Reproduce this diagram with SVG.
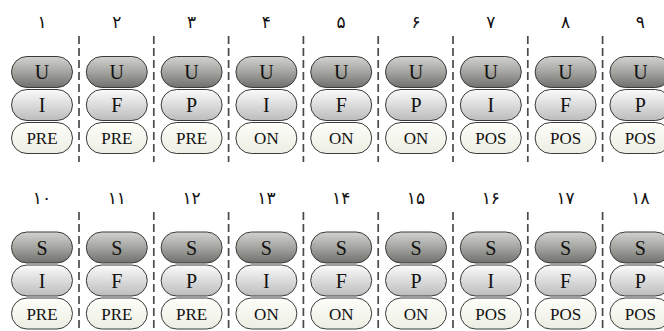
<svg xmlns="http://www.w3.org/2000/svg" width="664" height="331" viewBox="0 0 664 331">
<defs>
<linearGradient id="gTop" x1="0" y1="0" x2="0" y2="1">
<stop offset="0" stop-color="#d2d2ce"/>
<stop offset="0.5" stop-color="#a4a4a0"/>
<stop offset="1" stop-color="#70706c"/>
</linearGradient>
<linearGradient id="gMid" x1="0" y1="0" x2="0" y2="1">
<stop offset="0" stop-color="#fbfbfb"/>
<stop offset="1" stop-color="#bcbcbc"/>
</linearGradient>
<linearGradient id="gBot" x1="0" y1="0" x2="0" y2="1">
<stop offset="0" stop-color="#fefefa"/>
<stop offset="1" stop-color="#eceee2"/>
</linearGradient>
<rect id="pill" x="0" y="0" width="61" height="31" rx="15.5" ry="15.5"/>
</defs>
<style>
.top{fill:url(#gTop);stroke:#3a3a3a;stroke-width:1}
.mid{fill:url(#gMid);stroke:#3a3a3a;stroke-width:1}
.bot{fill:url(#gBot);stroke:#3a3a3a;stroke-width:1}
.big{font-family:"Liberation Serif",serif;font-size:20px;fill:#111;text-anchor:middle}
.small{font-family:"Liberation Serif",serif;font-size:17px;fill:#111;text-anchor:middle}
.num{font-family:"DejaVu Sans",sans-serif;font-size:17px;fill:#111;text-anchor:middle}
.sep{stroke:#4a4a4a;stroke-width:1.7;stroke-dasharray:8 4;fill:none}
</style>
<rect width="664" height="331" fill="#ffffff"/>
<g id="separators">
<line class="sep" x1="79" y1="36" x2="79" y2="162"/>
<line class="sep" x1="153.8" y1="36" x2="153.8" y2="162"/>
<line class="sep" x1="228.6" y1="36" x2="228.6" y2="162"/>
<line class="sep" x1="303.4" y1="36" x2="303.4" y2="162"/>
<line class="sep" x1="378.2" y1="36" x2="378.2" y2="162"/>
<line class="sep" x1="453" y1="36" x2="453" y2="162"/>
<line class="sep" x1="527.8" y1="36" x2="527.8" y2="162"/>
<line class="sep" x1="602.6" y1="36" x2="602.6" y2="162"/>
<line class="sep" x1="79" y1="212" x2="79" y2="331"/>
<line class="sep" x1="153.8" y1="212" x2="153.8" y2="331"/>
<line class="sep" x1="228.6" y1="212" x2="228.6" y2="331"/>
<line class="sep" x1="303.4" y1="212" x2="303.4" y2="331"/>
<line class="sep" x1="378.2" y1="212" x2="378.2" y2="331"/>
<line class="sep" x1="453" y1="212" x2="453" y2="331"/>
<line class="sep" x1="527.8" y1="212" x2="527.8" y2="331"/>
<line class="sep" x1="602.6" y1="212" x2="602.6" y2="331"/>
</g>
<g id="col1" transform="translate(11.5,0)">
<text class="num" x="30.5" y="28">۱</text>
<use href="#pill" class="top" y="56.5"/><text class="big" x="30.5" y="79">U</text>
<use href="#pill" class="mid" y="89.5"/><text class="big" x="30.5" y="112">I</text>
<use href="#pill" class="bot" y="122.5"/><text class="small" x="30.5" y="144">PRE</text>
</g>
<g id="col2" transform="translate(86.3,0)">
<text class="num" x="30.5" y="28">۲</text>
<use href="#pill" class="top" y="56.5"/><text class="big" x="30.5" y="79">U</text>
<use href="#pill" class="mid" y="89.5"/><text class="big" x="30.5" y="112">F</text>
<use href="#pill" class="bot" y="122.5"/><text class="small" x="30.5" y="144">PRE</text>
</g>
<g id="col3" transform="translate(161.1,0)">
<text class="num" x="30.5" y="28">۳</text>
<use href="#pill" class="top" y="56.5"/><text class="big" x="30.5" y="79">U</text>
<use href="#pill" class="mid" y="89.5"/><text class="big" x="30.5" y="112">P</text>
<use href="#pill" class="bot" y="122.5"/><text class="small" x="30.5" y="144">PRE</text>
</g>
<g id="col4" transform="translate(235.9,0)">
<text class="num" x="30.5" y="28">۴</text>
<use href="#pill" class="top" y="56.5"/><text class="big" x="30.5" y="79">U</text>
<use href="#pill" class="mid" y="89.5"/><text class="big" x="30.5" y="112">I</text>
<use href="#pill" class="bot" y="122.5"/><text class="small" x="30.5" y="144">ON</text>
</g>
<g id="col5" transform="translate(310.7,0)">
<text class="num" x="30.5" y="28">۵</text>
<use href="#pill" class="top" y="56.5"/><text class="big" x="30.5" y="79">U</text>
<use href="#pill" class="mid" y="89.5"/><text class="big" x="30.5" y="112">F</text>
<use href="#pill" class="bot" y="122.5"/><text class="small" x="30.5" y="144">ON</text>
</g>
<g id="col6" transform="translate(385.5,0)">
<text class="num" x="30.5" y="28">۶</text>
<use href="#pill" class="top" y="56.5"/><text class="big" x="30.5" y="79">U</text>
<use href="#pill" class="mid" y="89.5"/><text class="big" x="30.5" y="112">P</text>
<use href="#pill" class="bot" y="122.5"/><text class="small" x="30.5" y="144">ON</text>
</g>
<g id="col7" transform="translate(460.3,0)">
<text class="num" x="30.5" y="28">۷</text>
<use href="#pill" class="top" y="56.5"/><text class="big" x="30.5" y="79">U</text>
<use href="#pill" class="mid" y="89.5"/><text class="big" x="30.5" y="112">I</text>
<use href="#pill" class="bot" y="122.5"/><text class="small" x="30.5" y="144">POS</text>
</g>
<g id="col8" transform="translate(535.1,0)">
<text class="num" x="30.5" y="28">۸</text>
<use href="#pill" class="top" y="56.5"/><text class="big" x="30.5" y="79">U</text>
<use href="#pill" class="mid" y="89.5"/><text class="big" x="30.5" y="112">F</text>
<use href="#pill" class="bot" y="122.5"/><text class="small" x="30.5" y="144">POS</text>
</g>
<g id="col9" transform="translate(609.9,0)">
<text class="num" x="30.5" y="28">۹</text>
<use href="#pill" class="top" y="56.5"/><text class="big" x="30.5" y="79">U</text>
<use href="#pill" class="mid" y="89.5"/><text class="big" x="30.5" y="112">P</text>
<use href="#pill" class="bot" y="122.5"/><text class="small" x="30.5" y="144">POS</text>
</g>
<g id="col10" transform="translate(11.5,176)">
<text class="num" x="30.5" y="28">۱۰</text>
<use href="#pill" class="top" y="56"/><text class="big" x="30.5" y="78.5">S</text>
<use href="#pill" class="mid" y="89"/><text class="big" x="30.5" y="111.5">I</text>
<use href="#pill" class="bot" y="122"/><text class="small" x="30.5" y="143.5">PRE</text>
</g>
<g id="col11" transform="translate(86.3,176)">
<text class="num" x="30.5" y="28">۱۱</text>
<use href="#pill" class="top" y="56"/><text class="big" x="30.5" y="78.5">S</text>
<use href="#pill" class="mid" y="89"/><text class="big" x="30.5" y="111.5">F</text>
<use href="#pill" class="bot" y="122"/><text class="small" x="30.5" y="143.5">PRE</text>
</g>
<g id="col12" transform="translate(161.1,176)">
<text class="num" x="30.5" y="28">۱۲</text>
<use href="#pill" class="top" y="56"/><text class="big" x="30.5" y="78.5">S</text>
<use href="#pill" class="mid" y="89"/><text class="big" x="30.5" y="111.5">P</text>
<use href="#pill" class="bot" y="122"/><text class="small" x="30.5" y="143.5">PRE</text>
</g>
<g id="col13" transform="translate(235.9,176)">
<text class="num" x="30.5" y="28">۱۳</text>
<use href="#pill" class="top" y="56"/><text class="big" x="30.5" y="78.5">S</text>
<use href="#pill" class="mid" y="89"/><text class="big" x="30.5" y="111.5">I</text>
<use href="#pill" class="bot" y="122"/><text class="small" x="30.5" y="143.5">ON</text>
</g>
<g id="col14" transform="translate(310.7,176)">
<text class="num" x="30.5" y="28">۱۴</text>
<use href="#pill" class="top" y="56"/><text class="big" x="30.5" y="78.5">S</text>
<use href="#pill" class="mid" y="89"/><text class="big" x="30.5" y="111.5">F</text>
<use href="#pill" class="bot" y="122"/><text class="small" x="30.5" y="143.5">ON</text>
</g>
<g id="col15" transform="translate(385.5,176)">
<text class="num" x="30.5" y="28">۱۵</text>
<use href="#pill" class="top" y="56"/><text class="big" x="30.5" y="78.5">S</text>
<use href="#pill" class="mid" y="89"/><text class="big" x="30.5" y="111.5">P</text>
<use href="#pill" class="bot" y="122"/><text class="small" x="30.5" y="143.5">ON</text>
</g>
<g id="col16" transform="translate(460.3,176)">
<text class="num" x="30.5" y="28">۱۶</text>
<use href="#pill" class="top" y="56"/><text class="big" x="30.5" y="78.5">S</text>
<use href="#pill" class="mid" y="89"/><text class="big" x="30.5" y="111.5">I</text>
<use href="#pill" class="bot" y="122"/><text class="small" x="30.5" y="143.5">POS</text>
</g>
<g id="col17" transform="translate(535.1,176)">
<text class="num" x="30.5" y="28">۱۷</text>
<use href="#pill" class="top" y="56"/><text class="big" x="30.5" y="78.5">S</text>
<use href="#pill" class="mid" y="89"/><text class="big" x="30.5" y="111.5">F</text>
<use href="#pill" class="bot" y="122"/><text class="small" x="30.5" y="143.5">POS</text>
</g>
<g id="col18" transform="translate(609.9,176)">
<text class="num" x="30.5" y="28">۱۸</text>
<use href="#pill" class="top" y="56"/><text class="big" x="30.5" y="78.5">S</text>
<use href="#pill" class="mid" y="89"/><text class="big" x="30.5" y="111.5">P</text>
<use href="#pill" class="bot" y="122"/><text class="small" x="30.5" y="143.5">POS</text>
</g>
</svg>
